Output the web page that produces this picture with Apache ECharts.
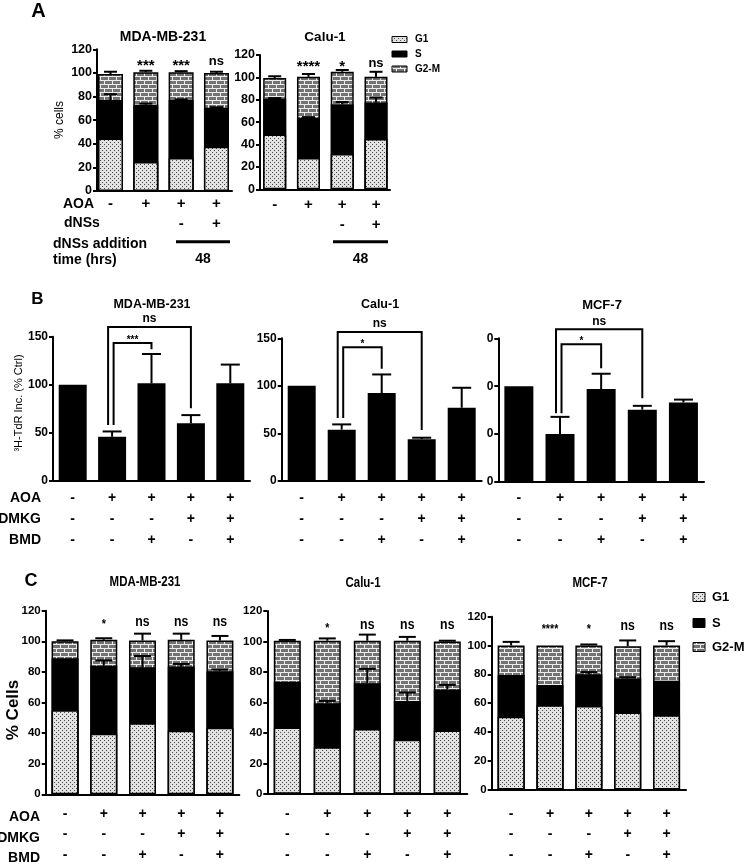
<!DOCTYPE html>
<html><head><meta charset="utf-8">
<script src="https://cdn.jsdelivr.net/npm/echarts@6/dist/echarts.min.js"></script>
<style>html,body{margin:0;padding:0;background:#fff}#c{width:745px;height:865px}</style>
</head><body><div id="c"></div>
<script>
// ================= DATA =================
// Panel A (cell cycle, % cells) — 4 conditions
const A_AOA = ['-', '+', '+', '+'];
const A_DNSS = [' ', ' ', '-', '+'];
const A_MDA_G1 = [44.5, 24.5, 28, 37.5];
const A_MDA_S = [32.5, 48.5, 49, 33];
const A_MDA_G2M = [22, 27.5, 23.5, 29.5];
const A_MDA_S_ERR = [5, 1, 0.6, 0.4];
const A_MDA_TOT_ERR = [2, 1.3, 1, 1];
const A_MDA_SIG = ['', '***', '***', 'ns'];

const A_CALU_G1 = [49, 28, 31.5, 45];
const A_CALU_S = [32, 36, 44.5, 32.5];
const A_CALU_G2M = [18.5, 36.5, 29, 23];
const A_CALU_S_ERR = [0.5, 0.5, 2, 4.5];
const A_CALU_TOT_ERR = [1.5, 2.5, 1.6, 4.5];
const A_CALU_SIG = ['', '****', '*', 'ns'];

// Panel B (3H-TdR incorporation, % Ctrl) — 5 conditions
const T_AOA = ['-', '+', '+', '+', '+'];
const T_DMKG = ['-', '-', '-', '+', '+'];
const T_BMD = ['-', '-', '+', '-', '+'];
const B_MDA = [100, 46, 101.5, 60, 101.5];
const B_MDA_ERR = [0, 5.5, 30.5, 8.5, 19.5];
const B_CALU = [100, 54, 92.5, 44, 77];
const B_CALU_ERR = [0, 5.5, 19.5, 1.5, 21];
const B_MCF = [100, 50, 97, 75.5, 83];
const B_MCF_ERR = [0, 18, 16, 4, 3];
const B_TICKS = [0, 50, 100, 150];
const B_MCF_TICK_LABELS = ['0', '0', '0', '0'];
// brackets: [leftBar, rightBar, topValue, leftLegBottom, rightLegBottom]
const B_MDA_BR = [[1, 3, 160, 58.2, 75.6], [1, 2, 143.5, 58.2, 137]];
const B_CALU_BR = [[1, 3, 156.7, 66.2, 53.6], [1, 2, 140.6, 66.2, 118]];
const B_MCF_BR = [[1, 3, 159.4, 71.7, 87.4], [1, 2, 143.7, 71.7, 118.7]];
const B_MDA_BR_LBL = ['ns', '***'];
const B_CALU_BR_LBL = ['ns', '*'];
const B_MCF_BR_LBL = ['ns', '*'];

// Panel C (cell cycle, % Cells) — 5 conditions
const C_MDA_G1 = [55, 39.5, 46.5, 41.5, 43.5];
const C_MDA_S = [34, 44.5, 36.5, 42, 37];
const C_MDA_G2M = [11, 17, 17.5, 17.5, 20];
const C_MDA_S_ERR = [0, 3.5, 7.4, 1.7, 1.1];
const C_MDA_TOT_ERR = [0.6, 1, 4.5, 4, 3];
const C_MDA_SIG = ['', '*', 'ns', 'ns', 'ns'];

const C_CALU_G1 = [43.5, 30.5, 42.5, 35.5, 41.5];
const C_CALU_S = [30, 29, 30, 25.5, 27];
const C_CALU_G2M = [27, 41, 28, 39.5, 31.5];
const C_CALU_S_ERR = [0, 1.5, 9.5, 5.5, 3];
const C_CALU_TOT_ERR = [0.5, 1.5, 4, 2.5, 0.5];
const C_CALU_SIG = ['', '*', 'ns', 'ns', 'ns'];

const C_MCF_G1 = [50.5, 58.5, 58, 53.5, 51.5];
const C_MCF_S = [29, 14, 22, 23.5, 24];
const C_MCF_G2M = [20.5, 27.5, 20, 22.5, 24.5];
const C_MCF_S_ERR = [0, 0, 1.5, 1, 0];
const C_MCF_TOT_ERR = [2.5, 0, 0.7, 4, 3];
const C_MCF_SIG = ['', '****', '*', 'ns', 'ns'];

const PHASES = ['G1', 'S', 'G2-M'];

// ================= STYLE / LAYOUT =================
const SANS = '"Liberation Sans", Arial, Helvetica, sans-serif';
const CX = 0.82; // horizontal condensing of panel C text

function makeG1() {
  const c = document.createElement('canvas'); c.width = 4; c.height = 4;
  const x = c.getContext('2d');
  x.fillStyle = '#e2e2e2'; x.fillRect(0, 0, 4, 4);
  x.fillStyle = '#4a4a4a'; x.fillRect(0, 0, 1, 1); x.fillRect(2, 2, 1, 1);
  return c;
}
function makeBrick() {
  const c = document.createElement('canvas'); c.width = 8; c.height = 8;
  const x = c.getContext('2d');
  x.fillStyle = '#737373'; x.fillRect(0, 0, 8, 8);
  x.fillStyle = '#ececec';
  x.fillRect(0, 0, 8, 1); x.fillRect(0, 4, 8, 1);
  x.fillRect(0, 1, 1, 3); x.fillRect(4, 5, 1, 3);
  return c;
}
const PAT_G1 = { image: makeG1(), repeat: 'repeat' };
const PAT_BRICK = { image: makeBrick(), repeat: 'repeat' };
const PHASE_FILL = [PAT_G1, '#000', PAT_BRICK];

const grids = [
  { left: 97, top: 49.3, width: 135, height: 141.7 },     // 0 A MDA
  { left: 260, top: 55, width: 130, height: 134.3 },      // 1 A Calu
  { left: 53, top: 336.7, width: 197, height: 144.3 },    // 2 B MDA
  { left: 281.7, top: 338.3, width: 200, height: 142.7 }, // 3 B Calu
  { left: 498.3, top: 338.3, width: 205.7, height: 143.7 },// 4 B MCF
  { left: 45.7, top: 610.7, width: 193.6, height: 186.6 },// 5 C MDA
  { left: 267.3, top: 611, width: 200, height: 185.7 },   // 6 C Calu
  { left: 491.7, top: 616.7, width: 194.3, height: 175.6 } // 7 C MCF
];

const AXLINE = { show: true, onZero: false, lineStyle: { color: '#000', width: 2 } };
const xAxes = [], yAxes = [], series = [];

function yAxis(gi, max, interval, size, formatter) {
  yAxes.push({
    gridIndex: gi, type: 'value', min: 0, max: max, interval: interval,
    axisLine: AXLINE,
    axisTick: { show: true, length: 4, lineStyle: { color: '#000', width: 2 } },
    splitLine: { show: false },
    axisLabel: { color: '#000', fontFamily: SANS, fontWeight: 'bold', fontSize: size, margin: 5, formatter: formatter }
  });
}
function xValueAxis(gi, min, max, rows, lh, margin) {
  xAxes.push({
    gridIndex: gi, type: 'value', min: min, max: max,
    axisLine: AXLINE, axisTick: { show: false }, splitLine: { show: false },
    axisLabel: {
      customValues: rows[0].map((_, i) => i),
      formatter: v => rows.map(r => r[Math.round(v)]).join('\n'),
      color: '#000', fontFamily: SANS, fontWeight: 'bold', fontSize: 15, lineHeight: lh, margin: margin
    }
  });
}
function xCatAxis(gi, rows, lh, margin) {
  xAxes.push({
    gridIndex: gi, type: 'category', data: rows[0].map((_, i) => String(i)),
    axisLine: AXLINE, axisTick: { show: false },
    axisLabel: {
      interval: 0, formatter: (v, i) => rows.map(r => r[i]).join('\n'),
      color: '#000', fontFamily: SANS, fontWeight: 'bold', fontSize: 14, lineHeight: lh, margin: margin
    }
  });
}

function errorSeries(gi, rows, capHalf) {
  series.push({
    type: 'custom', xAxisIndex: gi, yAxisIndex: gi, z: 5, clip: false, silent: true,
    data: rows, encode: { x: 0, y: [1, 2] },
    renderItem: (p, api) => {
      const a = api.coord([api.value(0), api.value(1)]);
      const b = api.coord([api.value(0), api.value(2)]);
      return { type: 'group', children: [
        { type: 'line', shape: { x1: a[0], y1: a[1], x2: b[0], y2: b[1] }, style: { stroke: '#000', lineWidth: 2 } },
        { type: 'line', shape: { x1: b[0] - capHalf, y1: b[1], x2: b[0] + capHalf, y2: b[1] }, style: { stroke: '#000', lineWidth: 2 } }
      ] };
    }
  });
}
function sigSeries(gi, labels, level, nsSize, starSize, sx) {
  series.push({
    type: 'custom', xAxisIndex: gi, yAxisIndex: gi, z: 6, clip: false, silent: true,
    data: labels.map((_, i) => [i, level]), encode: { x: 0, y: 1 },
    renderItem: (p, api) => {
      const t = labels[p.dataIndex];
      if (!t) return null;
      const c = api.coord([api.value(0), api.value(1)]);
      const star = /^\*+$/.test(t);
      return { type: 'text', x: c[0], y: c[1] + (star ? starSize * 0.25 : 0), scaleX: sx, style: {
        text: t, fill: '#000', align: 'center', verticalAlign: 'middle',
        font: 'bold ' + (star ? starSize : nsSize) + 'px ' + SANS } };
    }
  });
}
// stacked bars; cumulative tops drawn overlapped (topmost phase first)
function stackedPanel(gi, g1, s, g2m, sErr, totErr, sig, level, barW, capHalf, nsSize, starSize, sx) {
  const tops = [g1.map(v => v), g1.map((v, i) => v + s[i]), g1.map((v, i) => v + s[i] + g2m[i])];
  [2, 1, 0].forEach(k => {
    series.push({
      type: 'bar', name: PHASES[k], xAxisIndex: gi, yAxisIndex: gi,
      barWidth: barW, barGap: '-100%', silent: true,
      data: tops[k].map((v, i) => [i, v]),
      itemStyle: { color: PHASE_FILL[k], borderColor: '#000', borderWidth: 1.5 }
    });
  });
  const rows = [];
  g1.forEach((v, i) => {
    if (sErr[i] > 0) rows.push([i, tops[1][i], tops[1][i] + sErr[i]]);
    if (totErr[i] > 0) rows.push([i, tops[2][i], tops[2][i] + totErr[i]]);
  });
  errorSeries(gi, rows, capHalf);
  sigSeries(gi, sig, level, nsSize, starSize, sx);
}
function simplePanel(gi, vals, err, br, brLbl, barW, capHalf) {
  series.push({
    type: 'bar', xAxisIndex: gi, yAxisIndex: gi, barWidth: barW, silent: true,
    data: vals.map((v, i) => [i, v]), itemStyle: { color: '#000' }
  });
  errorSeries(gi, vals.map((v, i) => [i, v, v + err[i]]).filter((r, i) => err[i] > 0), capHalf);
  const DX = [-4, 1.5];
  series.push({
    type: 'custom', xAxisIndex: gi, yAxisIndex: gi, z: 6, clip: false, silent: true,
    data: br, encode: { x: [0, 1], y: [2, 3, 4] },
    renderItem: (p, api) => {
      const l = api.value(0), r = api.value(1), top = api.value(2);
      const pl = api.coord([l, top]), pr = api.coord([r, top]);
      const lb = api.coord([l, api.value(3)]), rb = api.coord([r, api.value(4)]);
      const xl = pl[0] + DX[p.dataIndex];
      const t = brLbl[p.dataIndex];
      const star = /^\*+$/.test(t);
      return { type: 'group', children: [
        { type: 'polyline', shape: { points: [[xl, lb[1]], [xl, pl[1]], [pr[0], pr[1]], [pr[0], rb[1]]] },
          style: { stroke: '#000', lineWidth: 2, fill: null } },
        { type: 'text', x: (xl + pr[0]) / 2, y: pl[1] - (star ? 3 : 8), style: {
          text: t, fill: '#000', align: 'center', verticalAlign: 'middle',
          font: 'bold ' + (star ? 10 : 12) + 'px ' + SANS } }
      ] };
    }
  });
}

// ---- Panel A ----
xValueAxis(0, -0.382, 3.44, [A_AOA, A_DNSS], 19.5, 3.3);
yAxis(0, 120, 20, 12.5);
stackedPanel(0, A_MDA_G1, A_MDA_S, A_MDA_G2M, A_MDA_S_ERR, A_MDA_TOT_ERR, A_MDA_SIG, 109.5, 25, 6.5, 13, 15, 1);
xValueAxis(1, -0.435, 3.414, [A_AOA, A_DNSS], 19.5, 6);
yAxis(1, 120, 20, 12.5);
stackedPanel(1, A_CALU_G1, A_CALU_S, A_CALU_G2M, A_CALU_S_ERR, A_CALU_TOT_ERR, A_CALU_SIG, 112.5, 23, 6.5, 13, 15, 1);

// ---- Panel B ----
xCatAxis(2, [T_AOA, T_DMKG, T_BMD], 21, 6.5);
yAxis(2, 150, 50, 12);
simplePanel(2, B_MDA, B_MDA_ERR, B_MDA_BR, B_MDA_BR_LBL, 28, 9.5);
xCatAxis(3, [T_AOA, T_DMKG, T_BMD], 21, 6.5);
yAxis(3, 150, 50, 12);
simplePanel(3, B_CALU, B_CALU_ERR, B_CALU_BR, B_CALU_BR_LBL, 28, 9.5);
xCatAxis(4, [T_AOA, T_DMKG, T_BMD], 21, 5.5);
yAxis(4, 150, 50, 12, v => B_MCF_TICK_LABELS[B_TICKS.indexOf(v)]);
simplePanel(4, B_MCF, B_MCF_ERR, B_MCF_BR, B_MCF_BR_LBL, 29, 9.5);

// ---- Panel C ----
xCatAxis(5, [T_AOA, T_DMKG, T_BMD], 20.5, 9.2);
yAxis(5, 120, 20, 11.5);
stackedPanel(5, C_MDA_G1, C_MDA_S, C_MDA_G2M, C_MDA_S_ERR, C_MDA_TOT_ERR, C_MDA_SIG, 113, 27, 8.5, 15, 13, CX);
xCatAxis(6, [T_AOA, T_DMKG, T_BMD], 20.5, 9.7);
yAxis(6, 120, 20, 11.5);
stackedPanel(6, C_CALU_G1, C_CALU_S, C_CALU_G2M, C_CALU_S_ERR, C_CALU_TOT_ERR, C_CALU_SIG, 111, 27, 8.5, 15, 13, CX);
xCatAxis(7, [T_AOA, T_DMKG, T_BMD], 20.5, 14.1);
yAxis(7, 120, 20, 11.5);
stackedPanel(7, C_MCF_G1, C_MCF_S, C_MCF_G2M, C_MCF_S_ERR, C_MCF_TOT_ERR, C_MCF_SIG, 113.7, 27, 8.5, 15, 13, CX);

// ---- Text annotations ----
function txt(text, x, y, font, align, rot, sx) {
  return { type: 'text', x: x, y: y, rotation: rot || 0, scaleX: sx || 1, silent: true,
    style: { text: text, font: font, fill: '#000', align: align || 'center', verticalAlign: 'middle' } };
}
const B = 'bold ';
const graphics = [
  txt('A', 38.5, 11, B + '20px ' + SANS),
  txt('B', 37.5, 299, B + '17px ' + SANS),
  txt('C', 31, 581, B + '18px ' + SANS),
  txt('MDA-MB-231', 163, 37, B + '14px ' + SANS),
  txt('Calu-1', 325, 37, B + '13.5px ' + SANS),
  txt('MDA-MB-231', 152, 305, B + '12.5px ' + SANS),
  txt('Calu-1', 380, 305, B + '12.5px ' + SANS),
  txt('MCF-7', 602, 305, B + '13px ' + SANS),
  txt('MDA-MB-231', 145, 582, B + '14px ' + SANS, 'center', 0, CX),
  txt('Calu-1', 363, 583, B + '14px ' + SANS, 'center', 0, CX),
  txt('MCF-7', 590, 583, B + '14px ' + SANS, 'center', 0, CX),
  txt('% cells', 60, 120, '12px ' + SANS, 'center', Math.PI / 2),
  txt('³H-TdR Inc. (% Ctrl)', 19, 403, '11px ' + SANS, 'center', Math.PI / 2),
  txt('% Cells', 13, 710, B + '17px ' + SANS, 'center', Math.PI / 2),
  // Panel A treatment rows
  txt('AOA', 63, 204, B + '14px ' + SANS, 'left'),
  txt('dNSs', 64, 223.5, B + '14px ' + SANS, 'left'),
  txt('dNSs addition', 53, 244, B + '14px ' + SANS, 'left'),
  txt('time (hrs)', 53, 260, B + '14px ' + SANS, 'left'),
  { type: 'line', silent: true, shape: { x1: 176, y1: 241.7, x2: 230, y2: 241.7 }, style: { stroke: '#000', lineWidth: 3 } },
  { type: 'line', silent: true, shape: { x1: 333, y1: 241.7, x2: 388, y2: 241.7 }, style: { stroke: '#000', lineWidth: 3 } },
  txt('48', 203, 259, B + '14px ' + SANS),
  txt('48', 360.5, 259, B + '14px ' + SANS),
  // Panel B / C treatment rows
  txt('AOA', 41, 498, B + '14px ' + SANS, 'right'),
  txt('DMKG', 41, 519, B + '14px ' + SANS, 'right'),
  txt('BMD', 41, 540, B + '14px ' + SANS, 'right'),
  txt('AOA', 40, 816.7, B + '14px ' + SANS, 'right'),
  txt('DMKG', 40, 837.7, B + '14px ' + SANS, 'right'),
  txt('BMD', 40, 857.7, B + '14px ' + SANS, 'right')
];
// legends
const LEG_A_Y = [39.5, 54, 69], LEG_C_Y = [597, 623, 647];
PHASES.forEach((name, k) => {
  graphics.push({ type: 'rect', silent: true, shape: { x: 392, y: LEG_A_Y[k] - 3, width: 15, height: 6 },
    style: { fill: PHASE_FILL[k], stroke: '#000', lineWidth: 1 } });
  graphics.push(txt(name, 415, LEG_A_Y[k], B + '10px ' + SANS, 'left'));
  graphics.push({ type: 'rect', silent: true, shape: { x: 693, y: LEG_C_Y[k] - 4.5, width: 12, height: 9 },
    style: { fill: PHASE_FILL[k], stroke: '#000', lineWidth: 1 } });
  graphics.push(txt(name, 712, LEG_C_Y[k], B + '13px ' + SANS, 'left'));
});

const chart = echarts.init(document.getElementById('c'), null, { renderer: 'canvas' });
chart.setOption({
  animation: false,
  backgroundColor: '#fff',
  grid: grids,
  xAxis: xAxes,
  yAxis: yAxes,
  series: series,
  graphic: graphics
});
</script>
</body></html>
